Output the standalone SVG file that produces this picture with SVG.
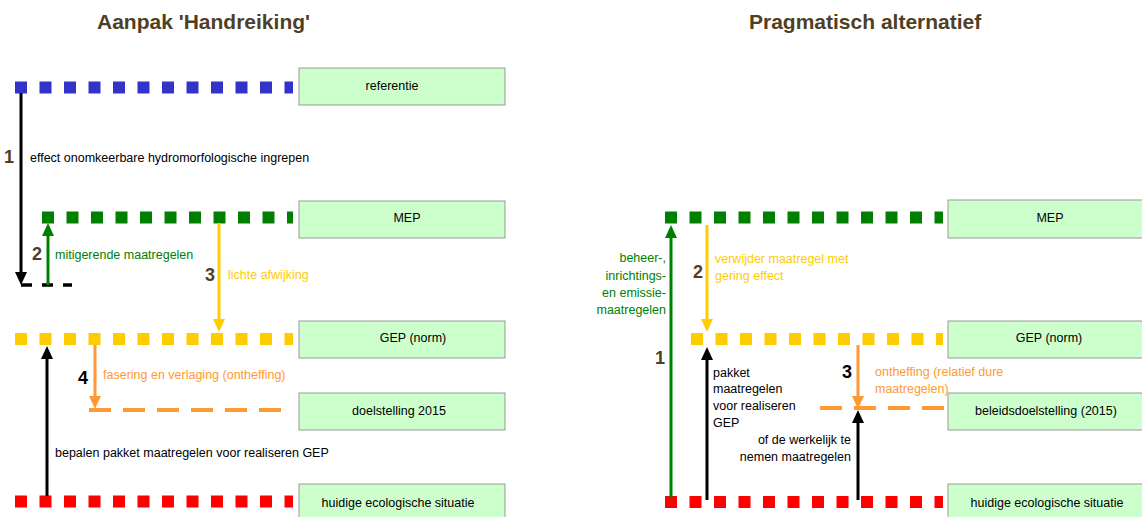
<svg xmlns="http://www.w3.org/2000/svg" width="1142" height="517" viewBox="0 0 1142 517">
<style>
text{font-family:"Liberation Sans",Arial,sans-serif;font-size:12.5px;fill:#000}
.title{font-size:21px;font-weight:bold;fill:#4f3f24}
.num{font-size:18px;font-weight:bold;fill:#4f3f24}
.numk{font-size:18px;font-weight:bold;fill:#000}
.box{fill:#ccffcc;stroke:#999;stroke-width:1}
.lvl{stroke-width:12;stroke-dasharray:12 12.5;fill:none}
.dash{stroke:#ff9933;stroke-width:4;stroke-dasharray:22 12;fill:none}
.c{stroke-width:3;fill:none}
.g{fill:#008000}.y{fill:#ffcc00}.o{fill:#ff9933}
.mid{text-anchor:middle}.end{text-anchor:end}
</style>
<defs>
<marker id="ak" markerUnits="userSpaceOnUse" markerWidth="13" markerHeight="12" refX="0" refY="6" orient="auto"><path d="M0,0L13,6L0,12z" fill="#000"/></marker>
<marker id="ag" markerUnits="userSpaceOnUse" markerWidth="13" markerHeight="12" refX="0" refY="6" orient="auto"><path d="M0,0L13,6L0,12z" fill="#008000"/></marker>
<marker id="ay" markerUnits="userSpaceOnUse" markerWidth="13" markerHeight="12" refX="0" refY="6" orient="auto"><path d="M0,0L13,6L0,12z" fill="#ffcc00"/></marker>
<marker id="ao" markerUnits="userSpaceOnUse" markerWidth="13" markerHeight="12" refX="0" refY="6" orient="auto"><path d="M0,0L13,6L0,12z" fill="#ff9933"/></marker>
</defs>
<rect width="1142" height="517" fill="#fff"/>
<text class="title" x="97" y="29">Aanpak 'Handreiking'</text>
<text class="title" x="749" y="29">Pragmatisch alternatief</text>

<!-- left nodes -->
<g id="l-referentie">
<line class="lvl" x1="15" y1="87.5" x2="293" y2="87.5" stroke="#3333cc"/>
<rect class="box" x="299" y="68" width="206" height="37"/>
<text class="mid" x="392" y="89.5">referentie</text>
</g>
<g id="l-mep">
<line class="lvl" x1="42" y1="217.5" x2="293" y2="217.5" stroke="#008000"/>
<rect class="box" x="299" y="201" width="206" height="37"/>
<text class="mid" x="407" y="221.5">MEP</text>
</g>
<g id="l-mitig">
<line x1="21" y1="285" x2="72" y2="285" stroke="#000" stroke-width="3.5" stroke-dasharray="11 10"/>
</g>
<g id="l-gep">
<line class="lvl" x1="15" y1="339" x2="293" y2="339" stroke="#ffcc00"/>
<rect class="box" x="299" y="321" width="206" height="37"/>
<text class="mid" x="413" y="341.5">GEP (norm)</text>
</g>
<g id="l-doel">
<line class="dash" x1="89" y1="410" x2="283" y2="410"/>
<rect class="box" x="299" y="393" width="206" height="37"/>
<text class="mid" x="399" y="414.5">doelstelling 2015</text>
</g>
<g id="l-huidig">
<line class="lvl" x1="15" y1="501.5" x2="293" y2="501.5" stroke="#ff0000"/>
<rect class="box" x="299" y="484" width="206" height="37"/>
<text class="mid" x="398" y="506.5">huidige ecologische situatie</text>
</g>

<!-- right nodes -->
<g id="r-mep">
<line class="lvl" x1="665" y1="217.5" x2="943" y2="217.5" stroke="#008000"/>
<rect class="box" x="948" y="200" width="206" height="38"/>
<text class="mid" x="1050" y="221.5">MEP</text>
</g>
<g id="r-gep">
<line class="lvl" x1="691" y1="339" x2="943" y2="339" stroke="#ffcc00"/>
<rect class="box" x="948" y="321" width="206" height="37"/>
<text class="mid" x="1049" y="341.5">GEP (norm)</text>
</g>
<g id="r-beleid">
<line class="dash" x1="820" y1="408" x2="945" y2="408"/>
<rect class="box" x="948" y="393" width="206" height="37"/>
<text class="mid" x="1046" y="414.5">beleidsdoelstelling (2015)</text>
</g>
<g id="r-huidig">
<line class="lvl" x1="665" y1="502" x2="943" y2="502" stroke="#ff0000"/>
<rect class="box" x="948" y="484" width="206" height="37"/>
<text class="mid" x="1047" y="506.5">huidige ecologische situatie</text>
</g>

<!-- connectors -->
<g id="connectors">
<line class="c" x1="21" y1="93" x2="21" y2="272" stroke="#000" marker-end="url(#ak)"/>
<line class="c" x1="48" y1="285" x2="48" y2="236" stroke="#008000" marker-end="url(#ag)"/>
<line class="c" x1="219" y1="223" x2="219" y2="319" stroke="#ffcc00" marker-end="url(#ay)"/>
<line class="c" x1="95" y1="345" x2="95" y2="396" stroke="#ff9933" marker-end="url(#ao)"/>
<line class="c" x1="47" y1="496" x2="47" y2="359" stroke="#000" marker-end="url(#ak)"/>

<line class="c" x1="671" y1="497" x2="671" y2="238" stroke="#008000" marker-end="url(#ag)"/>
<line class="c" x1="707" y1="225" x2="707" y2="319" stroke="#ffcc00" marker-end="url(#ay)"/>
<line class="c" x1="707" y1="500" x2="707" y2="360" stroke="#000" marker-end="url(#ak)"/>
<line class="c" x1="858" y1="345" x2="858" y2="396" stroke="#ff9933" marker-end="url(#ao)"/>
<line class="c" x1="858" y1="500" x2="858" y2="423" stroke="#000" marker-end="url(#ak)"/>
</g>

<!-- labels -->
<g id="labels">
<text class="num" x="4" y="162.5">1</text>
<text x="30" y="161.5">effect onomkeerbare hydromorfologische ingrepen</text>
<text class="num" x="32" y="259.5">2</text>
<text class="g" x="55" y="258.5">mitigerende maatregelen</text>
<text class="num" x="205" y="281">3</text>
<text class="y" x="228" y="278.5">lichte afwijking</text>
<text class="numk" x="78" y="383.5">4</text>
<text class="o" x="103" y="378.5">fasering en verlaging (ontheffing)</text>
<text x="55" y="456.5">bepalen pakket maatregelen voor realiseren GEP</text>

<text class="g end" x="666" y="262">beheer-,</text>
<text class="g end" x="666" y="279.5">inrichtings-</text>
<text class="g end" x="666" y="296.5">en emissie-</text>
<text class="g end" x="666" y="314">maatregelen</text>
<text class="num" x="655" y="363.5">1</text>
<text class="num" x="693" y="277.5">2</text>
<text class="y" x="715" y="262.5">verwijder maatregel met</text>
<text class="y" x="715" y="279.5">gering effect</text>
<text x="713" y="376.5">pakket</text>
<text x="713" y="392.5">maatregelen</text>
<text x="713" y="409.5">voor realiseren</text>
<text x="713" y="426.5">GEP</text>
<text class="numk" x="842" y="377.5">3</text>
<text class="o" x="875" y="375.5">ontheffing (relatief dure</text>
<text class="o" x="875" y="392.5">maatregelen)</text>
<text class="end" x="851" y="443.5">of de werkelijk te</text>
<text class="end" x="851" y="460.5">nemen maatregelen</text>
</g>
</svg>
